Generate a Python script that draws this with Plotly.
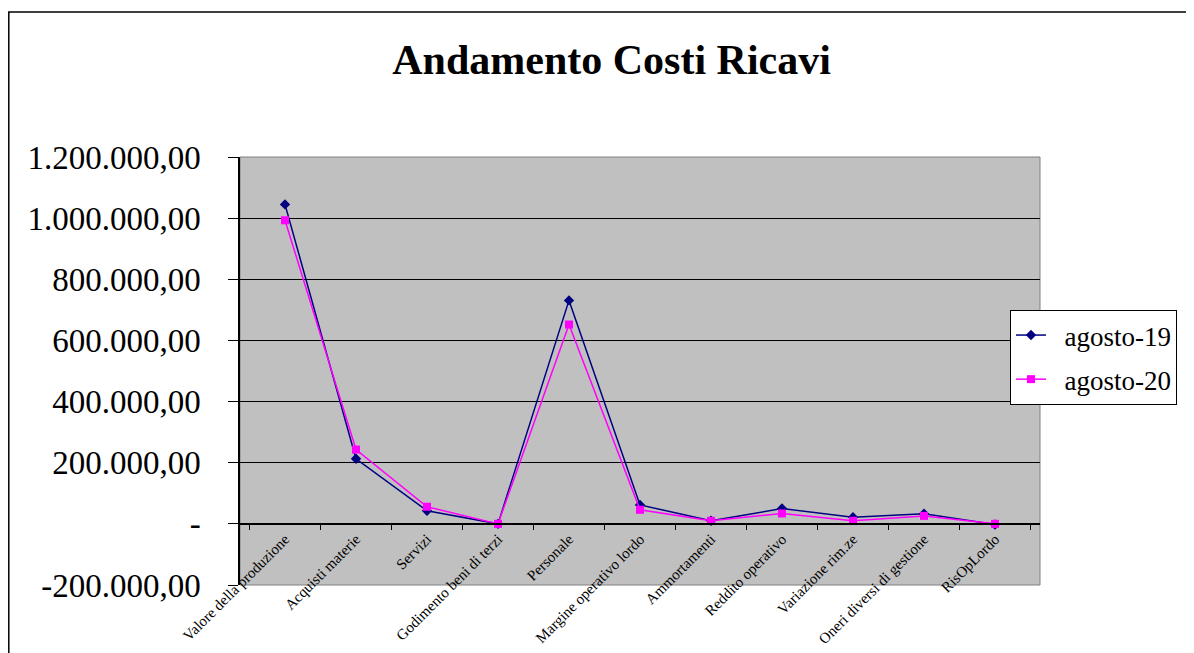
import plotly.graph_objects as go

categorie = [
    "Valore della produzione", "Acquisti materie", "Servizi",
    "Godimento beni di terzi", "Personale", "Margine operativo lordo",
    "Ammortamenti", "Reddito operativo", "Variazione rim.ze",
    "Oneri diversi di gestione", "RisOpLordo",
]
agosto_19 = [1045000, 213000, 43000, 0, 731000, 62000, 10000, 50000, 22000, 33000, -2000]
agosto_20 = [993000, 243000, 56000, 0, 652000, 46000, 10000, 34000, 10000, 26000, 0]

y_ticks = [-200000, 0, 200000, 400000, 600000, 800000, 1000000, 1200000]


def fmt_it(v):
    if v == 0:
        return "-"
    s = f"{abs(v):,.2f}".replace(",", "X").replace(".", ",").replace("X", ".")
    return ("-" if v < 0 else "") + s


y_min, y_max = -200000, 1200000
serif = "Liberation Serif"

fig = go.Figure()
fig.add_trace(go.Scatter(
    x=categorie, y=agosto_19, name="\u00a0\u00a0agosto-19", mode="lines+markers",
    legendgroup="a19",
    line=dict(color="#000080", width=1.5),
    marker=dict(symbol="diamond", size=8, color="#000080"),
))
fig.add_trace(go.Scatter(
    x=categorie, y=agosto_20, name="\u00a0\u00a0agosto-20", mode="lines+markers",
    legendgroup="a20",
    line=dict(color="#FF00FF", width=1.5),
    marker=dict(symbol="square", size=8, color="#FF00FF"),
))

# plot area border and outer chart frame
fig.add_shape(type="rect", xref="paper", yref="paper", x0=0, x1=1, y0=0, y1=1,
              line=dict(color="#808080", width=1), layer="below")
fig.add_shape(type="rect", xref="paper", yref="paper", x0=-0.289, x1=1.3, y0=-0.3, y1=1.339,
              line=dict(color="black", width=1.5))

fig.update_layout(
    width=1194, height=653,
    margin=dict(l=232, r=162, t=149, b=76),
    paper_bgcolor="white", plot_bgcolor="#C0C0C0",
    title=dict(text="<b>Andamento Costi Ricavi</b>", x=0.5055, xanchor="center",
               y=1 - 51 / 653, yanchor="middle",
               font=dict(family=serif, size=42, color="black")),
    xaxis=dict(
        type="category", anchor="free",
        position=(0 - y_min) / (y_max - y_min),
        showline=True, linecolor="black", linewidth=1.5,
        ticks="outside", tickson="boundaries", ticklen=5, tickcolor="black",
        tickangle=-45, showgrid=False, automargin=False,
        tickfont=dict(family=serif, size=15, color="black"),
    ),
    yaxis=dict(
        range=[y_min, y_max], tickvals=y_ticks, ticktext=[fmt_it(v) for v in y_ticks],
        showgrid=True, gridcolor="black", gridwidth=1.2, zeroline=False,
        showline=True, linecolor="black", linewidth=1.5,
        ticks="outside", ticklen=10, tickcolor="black",
        ticklabelstandoff=21, automargin=False,
        tickfont=dict(family=serif, size=33, color="black"),
    ),
    legend=dict(
        x=0.9625, y=0.6425, xanchor="left", yanchor="top",
        bgcolor="white", bordercolor="black", borderwidth=1,
        font=dict(family=serif, size=27, color="black"),
        itemwidth=30, tracegroupgap=6,
    ),
    showlegend=True,
)

fig.write_html("out.html")
